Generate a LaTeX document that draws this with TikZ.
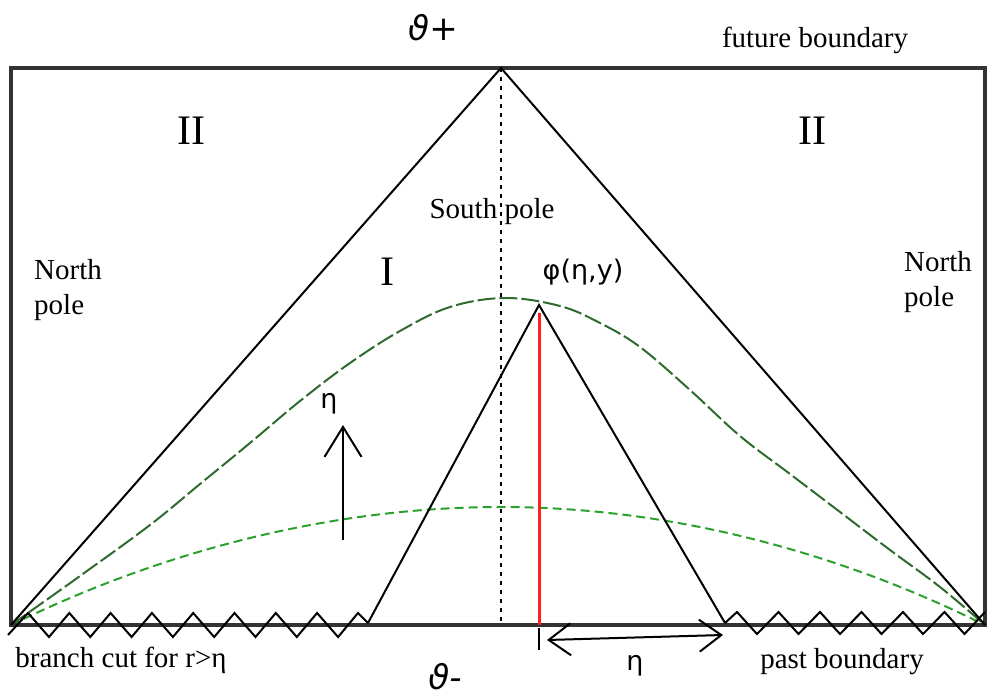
\documentclass[tikz,border=0pt]{standalone}
\usepackage{fontspec}
\setmainfont{Liberation Serif}
\newfontfamily\greeksans{DejaVu Sans}
\usetikzlibrary{arrows.meta}
\definecolor{FrameGray}{HTML}{333333}
\definecolor{WaveGreen}{HTML}{2F6B2F}
\definecolor{SlowGreen}{HTML}{2CA02C}
\definecolor{SignalRed}{HTML}{FF2020}
\tikzset{
    % Line styles
    diagramframe/.style={
        draw=FrameGray,
        line width=4pt
    },
    cone/.style={
        draw=black,
        line width=2pt
    },
    branchcut/.style={
        draw=black,
        line width=2pt,
        line join=miter
    },
    polar/.style={
        draw=black,
        line width=2pt,
        dash pattern=on 4pt off 5pt
    },
    longwave/.style={
        draw=WaveGreen,
        line width=2pt,
        dash pattern=on 18pt off 4pt
    },
    shortwave/.style={
        draw=SlowGreen,
        line width=2pt,
        dash pattern=on 9pt off 5pt
    },
    signal/.style={
        draw=SignalRed,
        line width=3pt
    },
    % Arrow styles - open barbs
    etaarrow/.style={
        -{Straight Barb[length=30pt, width=37pt]},
        line width=2pt
    },
    spanarrow/.style={
        {Straight Barb[length=22pt, width=32pt]}-{Straight Barb[length=22pt, width=32pt]},
        line width=2pt
    },
    % Text styles
    boxtext/.style={
        font=\fontsize{29}{35}\selectfont,
        align=left,
        inner sep=0pt
    },
    region/.style={
        font=\fontsize{42}{46}\selectfont,
        inner sep=0pt
    },
    greektext/.style={
        font=\greeksans\fontsize{27}{32}\selectfont,
        inner sep=0pt
    },
    thetatext/.style={
        font=\greeksans\itshape\fontsize{34}{38}\selectfont,
        inner sep=0pt
    }
}

\begin{document}
\begin{tikzpicture}[x=1pt, y=-1pt]
    \useasboundingbox (0,0) rectangle (987,700);

    % Corners and points
    \coordinate (nw) at (11,68);
    \coordinate (se) at (985,625);
    \coordinate (sw) at (11,625);
    \coordinate (top) at (501,68);
    \coordinate (bot) at (501,625);
    \coordinate (tip) at (539,305);
    \coordinate (footL) at (368,623);
    \coordinate (footR) at (725,623);
    \coordinate (redtop) at (539,313);
    \coordinate (redbot) at (539,625);
    \coordinate (ticktop) at (539,628);
    \coordinate (tickbot) at (539,650);
    \coordinate (spanL) at (547,640);
    \coordinate (spanR) at (723,635);
    \coordinate (etaS) at (343,540);
    \coordinate (etaT) at (343,425);

    % Green wave fronts
    \draw[shortwave] (sw) parabola bend (501,507) (se);
    \draw[longwave] plot[smooth, tension=0.6] coordinates {
        (11,625) (80,576) (150,525) (200,484) (250,443) (300,401)
        (350,363) (400,331) (450,307) (505,298) (560,306) (600,323)
        (640,347) (690,390) (740,436) (790,474) (840,512) (890,550)
        (940,587) (985,625)};

    % Frame
    \draw[diagramframe] (nw) rectangle (se);

    % Light cones
    \draw[cone] (sw) -- (top) -- (se);
    \draw[polar] (top) -- (bot);
    \draw[cone] (footL) -- (tip) -- (footR);
    \draw[signal] (redtop) -- (redbot);

    % Branch cuts
    \draw[branchcut] (8,635) \foreach \i in {0,...,7} {
        -- ({28+41.3*\i},613) -- ({49+41.3*\i},637)} -- (358,613) -- (footL);
    \draw[branchcut] (footR) \foreach \i in {0,...,5} {
        -- ({737+41.5*\i},612) -- ({757+41.5*\i},634)} -- (985,612);

    % Arrows
    \draw[etaarrow] (etaS) -- (etaT);
    \draw[spanarrow] (spanL) -- (spanR);
    \draw[line width=2pt] (ticktop) -- (tickbot);

    % Labels
    \node[thetatext] (thetaplus) at (433,28) {ϑ+};
    \node[thetatext] (thetaminus) at (445,677) {ϑ-};
    \node[boxtext] (future) at (815,40) {future boundary};
    \node[boxtext] (past) at (842,662) {past boundary};
    \node[boxtext] (cut) at (121,660) {branch cut for r>η};
    \node[boxtext] (south) at (492,212) {South pole};
    \node[boxtext, anchor=west] (northL) at (34,290) {North\\pole};
    \node[boxtext, anchor=west] (northR) at (904,282) {North\\pole};
    \node[region] (twoL) at (191,131) {II};
    \node[region] (twoR) at (812,131) {II};
    \node[region] (one) at (387,272) {I};
    \node[greektext] (field) at (583,272) {φ(η,y)};
    \node[greektext] (etaup) at (329,404) {η};
    \node[greektext] (etaspan) at (635,666) {η};
\end{tikzpicture}
\end{document}
